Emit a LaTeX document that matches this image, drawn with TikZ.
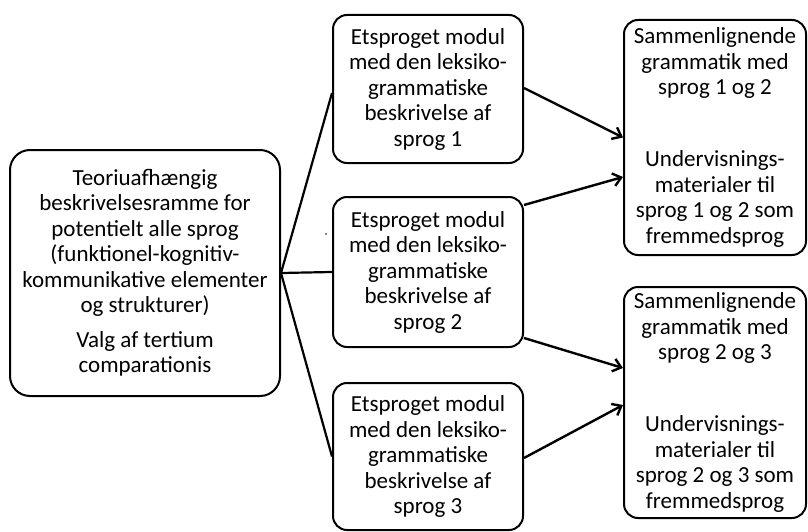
\documentclass[tikz,border=0pt]{standalone}
\usepackage{fontspec}
\setmainfont{Carlito}
\usetikzlibrary{arrows.meta}
\begin{document}
\begin{tikzpicture}[x=1pt,y=-1pt,
  box/.style={draw, line width=2pt, rounded corners=14pt, align=center, inner sep=0pt,
    font=\fontsize{23}{25.5}\selectfont},
  link/.style={line width=2.2pt},
  arr/.style={line width=2.4pt, -{Straight Barb[length=8pt,width=13pt]}}]
\useasboundingbox (0,0) rectangle (808,532);
\node[box, minimum width=270pt, minimum height=246pt, rounded corners=20pt] (L) at (145,273)
  {Teoriuafhængig\\beskrivelsesramme for\\potentielt alle sprog\\(funktionel-kognitiv-\\kommunikative elementer\\og strukturer)\\[9pt]Valg af tertium\\comparationis};
\node[box, minimum width=190pt, minimum height=148pt] (M1) at (428,89)
  {Etsproget modul\\med den leksiko-\\grammatiske\\beskrivelse af\\sprog 1};
\node[box, minimum width=190pt, minimum height=150pt] (M2) at (428,272)
  {Etsproget modul\\med den leksiko-\\grammatiske\\beskrivelse af\\sprog 2};
\node[box, minimum width=190pt, minimum height=147pt] (M3) at (428,456.5)
  {Etsproget modul\\med den leksiko-\\grammatiske\\beskrivelse af\\sprog 3};
\node[box, minimum width=182pt, minimum height=235pt] (R1) at (715,137.5)
  {Sammenlignende\\grammatik med\\sprog 1 og 2\\[46.5pt]Undervisnings-\\materialer til\\sprog 1 og 2 som\\fremmedsprog};
\node[box, minimum width=182pt, minimum height=231pt] (R2) at (715,402.5)
  {Sammenlignende\\grammatik med\\sprog 2 og 3\\[46.5pt]Undervisnings-\\materialer til\\sprog 2 og 3 som\\fremmedsprog};
\draw[link] (L.east) -- ([yshift=-4pt]M1.west);
\draw[link] (L.east) -- (M2.west);
\draw[link] (L.east) -- (M3.west);
\draw[arr] ([yshift=1pt]M1.east) -- (R1.west);
\draw[arr] ([yshift=67pt]M2.east) -- ([yshift=-39.5pt]R1.west);
\draw[arr] ([yshift=-66pt]M2.east) -- ([yshift=34.5pt]R2.west);
\draw[arr] ([yshift=-1.5pt]M3.east) -- ([yshift=-2.5pt]R2.west);
\coordinate (dot) at (326,234);
\fill[blue!60!black] (dot) circle (0.8pt);
\end{tikzpicture}
\end{document}
